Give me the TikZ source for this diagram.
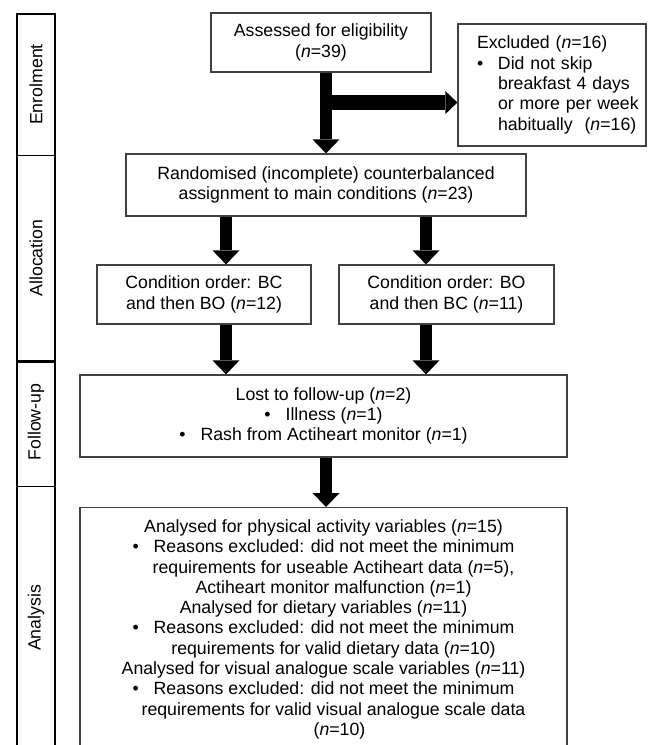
\documentclass[tikz,border=0pt]{standalone}
\usepackage{fontspec}
\setmainfont{Liberation Sans}
\usetikzlibrary{arrows.meta}

\begin{document}
\begin{tikzpicture}[
  x = 1pt, y = -1pt,
  every node/.style = {font=\fontsize{17.7pt}{20.3pt}\selectfont, inner sep=0pt},
  box/.style = {draw=black!75, line width=1.2pt, align=center},
  stage/.style = {rotate=90},
  bar/.style = {line width=1.3pt},
  flow/.style = {line width=12pt, -{Triangle[width=27pt, length=14pt, line width=0pt]}},
  branch/.style = {line width=15pt, -{Triangle[width=23pt, length=12pt, line width=0pt]}},
  ]
  \useasboundingbox (0,0) rectangle (650,745);
  \clip (0,0) rectangle (650,745);

  \draw[bar] (17,760) -- (17,14) -- (55,14) -- (55,760);
  \foreach \y in {155.5,486.5}
    \draw[bar] (17,\y) -- (55,\y);
  \draw[line width=2.5pt] (17,361.5) -- (55,361.5);

  \node[stage] (enrol) at (36,84.5) {Enrolment};
  \node[stage] (alloc) at (36,258) {Allocation};
  \node[stage] (follow) at (36,422) {Follow-up};
  \node[stage] (analys) at (36,618) {Analysis};

  \node[box, minimum width=220pt, minimum height=59pt] (assess) at (321,42.5)
    {Assessed for eligibility\\(\textit{n}=39)};
  \node[box, minimum width=188pt, minimum height=122pt, text width=150pt, align=left] (excl) at (552,85)
    {\mbox{Excluded (\textit{n}=16)}\\
     \makebox[21pt][l]{\textbullet}\mbox{Did not skip}\\
     \hspace*{21pt}\mbox{breakfast 4 days}\\
     \hspace*{21pt}\mbox{or more per week}\\
     \hspace*{21pt}\mbox{habitually \ (\textit{n}=16)}};
  \node[box, minimum width=400pt, minimum height=62pt] (rand) at (326,185)
    {Randomised (incomplete) counterbalanced\\assignment to main conditions (\textit{n}=23)};
  \node[box, minimum width=214pt, minimum height=59pt] (bc) at (204,294.5)
    {Condition order: BC\\and then BO (\textit{n}=12)};
  \node[box, minimum width=215pt, minimum height=59pt] (bo) at (446.5,294.5)
    {Condition order: BO\\and then BC (\textit{n}=11)};
  \node[box, minimum width=487pt, minimum height=82pt] (lost) at (323.5,416)
    {Lost to follow-up (\textit{n}=2)\\
     \textbullet\hspace{15pt}Illness (\textit{n}=1)\\
     \textbullet\hspace{15pt}Rash from Actiheart monitor (\textit{n}=1)};
  \node[box, anchor=north, minimum width=487pt, inner ysep=12pt] (anal) at (323.5,507)
    {Analysed for physical activity variables (\textit{n}=15)\\
     \textbullet\hspace{15pt}Reasons excluded: did not meet the minimum\\
     \hspace*{20pt}requirements for useable Actiheart data (\textit{n}=5),\\
     \hspace*{20pt}Actiheart monitor malfunction (\textit{n}=1)\\
     Analysed for dietary variables (\textit{n}=11)\\
     \textbullet\hspace{15pt}Reasons excluded: did not meet the minimum\\
     \hspace*{20pt}requirements for valid dietary data (\textit{n}=10)\\
     Analysed for visual analogue scale variables (\textit{n}=11)\\
     \textbullet\hspace{15pt}Reasons excluded: did not meet the minimum\\
     \hspace*{20pt}requirements for valid visual analogue scale data\\
     \hspace*{32pt}(\textit{n}=10)};

  \coordinate (split) at (327,102.5);
  \coordinate (lcol) at ([xshift=-100pt]rand.south);
  \coordinate (rcol) at ([xshift=100pt]rand.south);

  \draw[flow] (assess.south -| rand.north) -- (rand.north);
  \draw[branch] (split) -- (split -| excl.west);
  \draw[flow] (lcol) -- (lcol |- bc.north);
  \draw[flow] (rcol) -- (rcol |- bo.north);
  \draw[flow] (lcol |- bc.south) -- (lcol |- lost.north);
  \draw[flow] (rcol |- bo.south) -- (rcol |- lost.north);
  \draw[flow] (lost.south -| rand.south) -- (anal.north -| rand.south);
\end{tikzpicture}
\end{document}
